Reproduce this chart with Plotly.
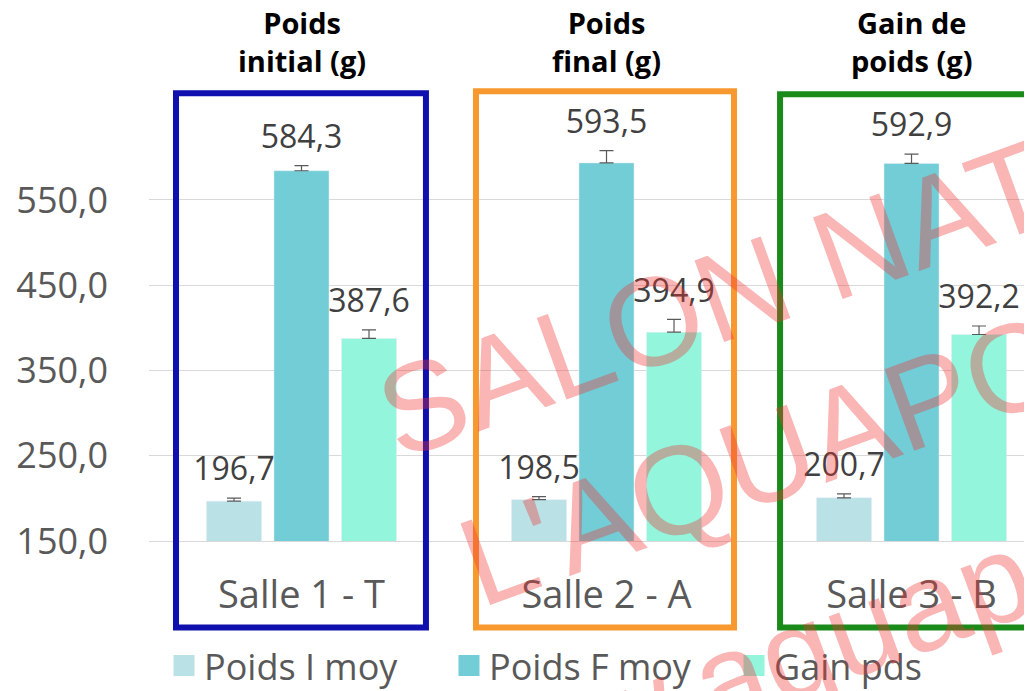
import plotly.graph_objects as go

categories = ["Salle 1 - T", "Salle 2 - A", "Salle 3 - B"]
series_names = ["Poids I moy", "Poids F moy", "Gain pds"]
poids_i = [196.7, 198.5, 200.7]
poids_f = [584.3, 593.5, 592.9]
gain = [387.6, 394.9, 392.2]
err_i = [3.5, 3.5, 4.5]
err_f = [6.0, 14.5, 11.0]
err_g = [10.0, 15.0, 10.0]
group_titles = ["Poids<br>initial (g)", "Poids<br>final (g)", "Gain de<br>poids (g)"]
watermark_lines = ["SALON NATIONAL DE", "L'AQUAPONIE", "www.aquaponie.fr"]

series_values = [poids_i, poids_f, gain]
series_errs = [err_i, err_f, err_g]
colors = ["#B9E1E6", "#73CDD6", "#93F5DC"]
box_colors = ["#1010AE", "#F7992F", "#1A8A1A"]

FONT = "Open Sans"
GREY = "#595959"

fig = go.Figure()
for i, (name, vals, errs) in enumerate(zip(series_names, series_values, series_errs)):
    fig.add_trace(go.Bar(
        x=categories, y=vals, name=name, offsetgroup=str(i), showlegend=False,
        marker=dict(color=colors[i]),
        error_y=dict(type="data", array=errs, arrayminus=[0] * len(errs), symmetric=False,
                     color=GREY, thickness=1.2, width=7),
    ))
for i, (vals, errs) in enumerate(zip(series_values, series_errs)):
    fig.add_trace(go.Scatter(
        x=categories, y=[v + e for v, e in zip(vals, errs)], mode="markers+text",
        marker=dict(size=14, color="rgba(0,0,0,0)"),
        text=[f"{v:.1f}".replace(".", ",") for v in vals], offsetgroup=str(i),
        textposition="top center", showlegend=False, cliponaxis=False,
        textfont=dict(family=FONT, size=32, color="#404040"), hoverinfo="skip",
    ))
# legend entries (drawn on a hidden overlay axis so they do not affect grouping)
for i, name in enumerate(series_names):
    fig.add_trace(go.Scatter(
        x=[None], y=[None], mode="markers", name=name, xaxis="x2", yaxis="y2",
        marker=dict(symbol="square", size=16, color=colors[i], line=dict(color=colors[i], width=6)),
        showlegend=True,
    ))

shapes = []
box_x = [(-0.4115, 0.408), (0.572, 1.418), (1.569, 2.438)]
box_y = [(-0.2071, 1.0713), (-0.2071, 1.0761), (-0.2071, 1.069)]
for (x0, x1), (y0, y1), c in zip(box_x, box_y, box_colors):
    shapes.append(dict(type="rect", xref="x", yref="paper", x0=x0, x1=x1, y0=y0, y1=y1,
                       line=dict(color=c, width=6), fillcolor="rgba(0,0,0,0)", layer="above"))

annotations = []
for i, t in enumerate(group_titles):
    annotations.append(dict(x=i, xref="x", y=1.196, yref="paper",
                            text="<b>" + t.replace("<br>", "</b><br><b>") + "</b>",
                            showarrow=False, xanchor="center", yanchor="middle",
                            font=dict(family=FONT, size=29, color="#000000")))

wm_pos = [(0.951, 0.817), (0.807, 0.282), (0.833, -0.189)]
for t, (x, y) in zip(watermark_lines, wm_pos):
    annotations.append(dict(x=x, y=y, xref="paper", yref="paper", text=t, showarrow=False,
                            textangle=-20, xanchor="center", yanchor="middle",
                            font=dict(family="Liberation Sans", size=126,
                                      color="rgba(240,50,50,0.36)")))

fig.update_layout(
    width=1024, height=683,
    margin=dict(l=141, r=0, t=115, b=150, autoexpand=False),
    plot_bgcolor="white", paper_bgcolor="white",
    barmode="group", bargap=0.336, bargroupgap=0.185,
    scattermode="group", scattergap=0.336,
    separators=", ",
    font=dict(family=FONT, color=GREY),
    showlegend=True,
    legend=dict(orientation="h", x=0.017, xanchor="left", y=-0.298, yanchor="middle",
                font=dict(family=FONT, size=36, color=GREY), traceorder="normal",
                entrywidth=240, entrywidthmode="pixels", itemsizing="trace",
                bgcolor="rgba(0,0,0,0)"),
    shapes=shapes, annotations=annotations,
    xaxis=dict(range=[-0.5, 2.395], showgrid=False, showline=True,
               linecolor="#D9D9D9", linewidth=1, ticks="", ticklabelstandoff=20,
               tickfont=dict(family=FONT, size=38, color=GREY)),
    yaxis=dict(range=[150, 640.3], tick0=150, dtick=100, tickformat=".1f", showgrid=True,
               gridcolor="#D9D9D9", gridwidth=1, zeroline=False, showline=False, ticks="",
               ticklabelstandoff=40, tickfont=dict(family=FONT, size=36, color=GREY)),
    xaxis2=dict(overlaying="x", visible=False),
    yaxis2=dict(overlaying="y", visible=False),
)

fig.write_html("out.html")
